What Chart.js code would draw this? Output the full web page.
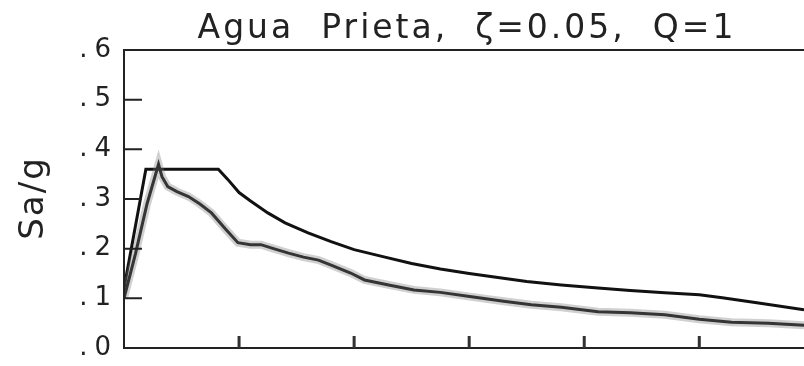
<!DOCTYPE html>
<html>
<head>
<meta charset="utf-8">
<script src="https://cdn.jsdelivr.net/npm/chart.js@4.4.0/dist/chart.umd.min.js"></script>
<style>
  html, body { margin: 0; padding: 0; background: #fff; }
  #wrap { width: 804px; height: 366px; }
</style>
</head>
<body>
<div id="wrap"><canvas id="spectrumChart"></canvas></div>
<script>
// periods (s) and Sa/g
var designT  = [0.0, 0.19, 0.82, 0.90, 1.00, 1.10, 1.25, 1.40, 1.60, 1.80, 2.00, 2.25, 2.50, 2.75, 3.00, 3.25, 3.50, 3.80, 4.12, 4.40, 4.70, 5.00, 5.20, 5.50, 5.91];
var designSa = [0.12, 0.36, 0.36, 0.340, 0.313, 0.296, 0.272, 0.252, 0.232, 0.214, 0.198, 0.184, 0.170, 0.159, 0.150, 0.142, 0.134, 0.127, 0.121, 0.116, 0.111, 0.107, 0.101, 0.091, 0.077];

var meanT  = [0.0, 0.10, 0.20, 0.30, 0.33, 0.38, 0.46, 0.56, 0.66, 0.76, 0.88, 0.99, 1.10, 1.19, 1.30, 1.43, 1.56, 1.69, 1.80, 1.97, 2.09, 2.30, 2.52, 2.75, 3.02, 3.30, 3.54, 3.80, 4.12, 4.40, 4.70, 5.00, 5.28, 5.60, 5.91];
var meanSa = [0.10, 0.19, 0.29, 0.37, 0.345, 0.325, 0.315, 0.305, 0.29, 0.272, 0.24, 0.212, 0.208, 0.208, 0.200, 0.191, 0.183, 0.177, 0.167, 0.151, 0.137, 0.127, 0.117, 0.112, 0.103, 0.094, 0.087, 0.082, 0.073, 0.071, 0.067, 0.058, 0.052, 0.050, 0.046];

var yTicks = [0, 0.1, 0.2, 0.3, 0.4, 0.5, 0.6];
var xTicks = [1, 2, 3, 4, 5];
var titleText = 'Agua  Prieta,  \u03B6=0.05,  Q=1';
var yTitle = 'Sa/g';

var toPoints = (xs, ys) => xs.map((x, i) => ({x: x, y: ys[i]}));

// wide spacing for the tick numbers (".6" has a gap in the original)
var spacingPlugin = {
  id: 'spacing',
  beforeDraw: (chart) => { chart.ctx.letterSpacing = '7px'; }
};

// frame + inside tick marks + titles
var framePlugin = {
  id: 'frame',
  afterDatasetsDraw: (chart) => {
    var ctx = chart.ctx;
    var a = chart.chartArea;
    var xs = chart.scales.x;
    var ys = chart.scales.y;
    ctx.save();
    ctx.strokeStyle = '#222';
    ctx.lineWidth = 2;
    ctx.strokeRect(a.left, a.top, a.right - a.left + 2, a.bottom - a.top);
    ctx.beginPath();
    yTicks.forEach((v) => {
      var py = ys.getPixelForValue(v);
      ctx.moveTo(a.left, py);
      ctx.lineTo(a.left + 18, py);
    });
    ctx.stroke();
    ctx.lineWidth = 3;
    ctx.strokeStyle = '#333';
    ctx.beginPath();
    xTicks.forEach((v) => {
      var px = xs.getPixelForValue(v);
      ctx.moveTo(px, a.bottom);
      ctx.lineTo(px, a.bottom - 12);
    });
    ctx.stroke();

    ctx.fillStyle = '#222';
    ctx.font = '33px "DejaVu Sans"';
    ctx.letterSpacing = '3px';
    ctx.textAlign = 'center';
    ctx.textBaseline = 'alphabetic';
    ctx.fillText(titleText, (a.left + a.right) / 2 + 3, 38);

    // rotated y title
    ctx.font = '34px "DejaVu Sans"';
    ctx.letterSpacing = '2px';
    ctx.textBaseline = 'middle';
    ctx.translate(34, (a.top + a.bottom) / 2);
    ctx.rotate(-Math.PI / 2);
    ctx.fillText(yTitle, 1, 0);
    ctx.restore();
  }
};

var ctx1 = document.getElementById('spectrumChart').getContext('2d');
var spectrumChart = new Chart(ctx1, {
  type: 'scatter',
  data: {
    datasets: [
      {
        label: 'records',
        data: toPoints(meanT, meanSa),
        showLine: true,
        borderColor: 'rgba(120, 120, 120, 0.35)',
        borderWidth: 8,
        pointRadius: 0,
        tension: 0
      },
      {
        label: 'mean',
        data: toPoints(meanT, meanSa),
        showLine: true,
        borderColor: '#111',
        borderWidth: 3,
        pointRadius: 0,
        tension: 0
      },
      {
        label: 'design',
        data: toPoints(designT, designSa),
        showLine: true,
        borderColor: '#111',
        borderWidth: 3,
        pointRadius: 0,
        tension: 0
      }
    ]
  },
  options: {
    responsive: true,
    maintainAspectRatio: false,
    animation: false,
    layout: { padding: { left: 0, right: 0, top: 50, bottom: 18 } },
    plugins: {
      legend: { display: false },
      tooltip: { enabled: false },
      title: { display: false }
    },
    scales: {
      x: {
        type: 'linear',
        display: false,
        min: 0,
        max: 5.91
      },
      y: {
        min: 0,
        max: 0.6,
        afterBuildTicks: (scale) => { scale.ticks = yTicks.map((v) => ({value: v})); },
        grid: { display: false, drawTicks: false },
        border: { display: false },
        ticks: {
          color: '#222',
          padding: 6,
          font: { family: 'DejaVu Sans', size: 26 },
          callback: (v) => '.' + Math.round(v * 10)
        },
        afterFit: (scale) => {
          scale.width = 124;
          scale.paddingTop = 0;
          scale.paddingBottom = 0;
        }
      }
    }
  },
  plugins: [spacingPlugin, framePlugin]
});
</script>
</body>
</html>
